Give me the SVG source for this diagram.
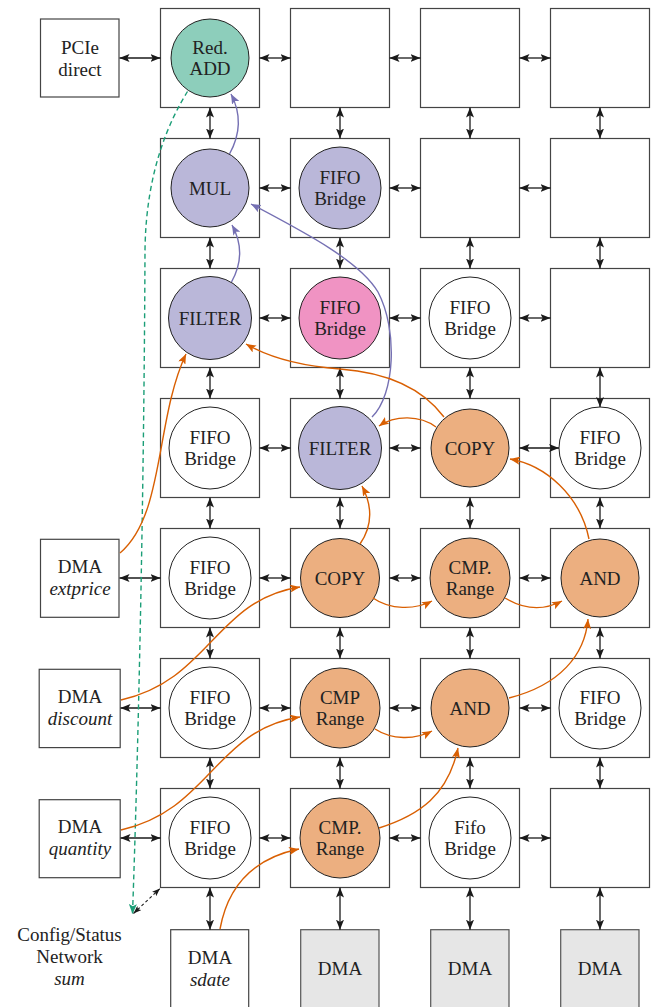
<svg xmlns="http://www.w3.org/2000/svg" width="652" height="1007" viewBox="0 0 652 1007" font-family="'Liberation Serif','DejaVu Serif','Times New Roman',serif">
<style>
.tile{fill:#fff;stroke:#444;stroke-width:1.2}
.box{fill:#fff;stroke:#444;stroke-width:1.2}
.gbox{fill:#e6e6e6;stroke:#555;stroke-width:1.2}
.c{stroke:#222;stroke-width:1}
.w{fill:#fff}
.lav{fill:#bab7d9}
.pink{fill:#f093c3}
.org{fill:#ecaf80}
.teal{fill:#8dcebb}
text{font-family:'Liberation Serif','DejaVu Serif','Times New Roman',serif;font-size:19px;fill:#222;text-anchor:middle}
.it{font-style:italic}
.bi{stroke:#1a1a1a;stroke-width:1.3;marker-start:url(#ak);marker-end:url(#ak)}
.o{fill:none;stroke:#d95f02;stroke-width:1.4;marker-end:url(#ao)}
.p{fill:none;stroke:#7570b3;stroke-width:1.4;marker-end:url(#ap)}
</style>
<defs>
<marker id="ak" markerUnits="userSpaceOnUse" markerWidth="10" markerHeight="8" refX="10" refY="4" orient="auto-start-reverse"><path d="M0,0 L10,4 L0,8 L2.2,4 z" fill="#1a1a1a"/></marker>
<marker id="ao" markerUnits="userSpaceOnUse" markerWidth="10" markerHeight="8" refX="10" refY="4" orient="auto"><path d="M0,0 L10,4 L0,8 L2.2,4 z" fill="#d95f02"/></marker>
<marker id="ap" markerUnits="userSpaceOnUse" markerWidth="10" markerHeight="8" refX="10" refY="4" orient="auto"><path d="M0,0 L10,4 L0,8 L2.2,4 z" fill="#7570b3"/></marker>
<marker id="ag" markerUnits="userSpaceOnUse" markerWidth="10" markerHeight="8" refX="10" refY="4" orient="auto"><path d="M0,0 L10,4 L0,8 L2.2,4 z" fill="#1b9e77"/></marker>
<marker id="akd" markerUnits="userSpaceOnUse" markerWidth="8" markerHeight="6" refX="8" refY="3" orient="auto-start-reverse"><path d="M0,0 L8,3 L0,6 L1.8,3 z" fill="#1a1a1a"/></marker>
</defs>

<!-- external boxes -->
<g id="pcie"><rect class="box" x="40.5" y="19" width="78.5" height="78"/><text x="80" y="54">PCIe</text><text x="80" y="75.5">direct</text></g>
<g id="dma-extprice"><rect class="box" x="40.5" y="539.3" width="78.5" height="78"/><text x="80" y="572.5">DMA</text><text class="it" x="80" y="594.5">extprice</text></g>
<g id="dma-discount"><rect class="box" x="39.2" y="669.3" width="81" height="78.3"/><text x="80" y="703.3">DMA</text><text class="it" x="80" y="725">discount</text></g>
<g id="dma-quantity"><rect class="box" x="39.2" y="799.7" width="81" height="78"/><text x="80" y="832.5">DMA</text><text class="it" x="80" y="855">quantity</text></g>
<g id="config"><text x="69.5" y="941">Config/Status</text><text x="69.5" y="963.3">Network</text><text class="it" x="69.5" y="985">sum</text></g>
<g id="dma-sdate"><rect class="box" x="170.7" y="929.7" width="78" height="78.5"/><text x="210" y="964">DMA</text><text class="it" x="210" y="986">sdate</text></g>
<g id="dma-b2"><rect class="gbox" x="300.7" y="929.7" width="78.3" height="78.5"/><text x="340" y="975">DMA</text></g>
<g id="dma-b3"><rect class="gbox" x="430.7" y="929.7" width="78.3" height="78.5"/><text x="470" y="975">DMA</text></g>
<g id="dma-b4"><rect class="gbox" x="560.7" y="929.7" width="78.3" height="78.5"/><text x="600" y="975">DMA</text></g>

<!-- row 1 -->
<g id="t11"><rect class="tile" x="160.5" y="8.5" width="99" height="99"/><circle class="c teal" cx="210" cy="58" r="39"/><text x="210" y="53.5">Red.</text><text x="210" y="74.5">ADD</text></g>
<g id="t12"><rect class="tile" x="290.5" y="8.5" width="99" height="99"/></g>
<g id="t13"><rect class="tile" x="420.5" y="8.5" width="99" height="99"/></g>
<g id="t14"><rect class="tile" x="550.5" y="8.5" width="99" height="99"/></g>
<!-- row 2 -->
<g id="t21"><rect class="tile" x="160.5" y="138.5" width="99" height="99"/><circle class="c lav" cx="210" cy="188" r="39"/><text x="210" y="194.5">MUL</text></g>
<g id="t22"><rect class="tile" x="290.5" y="138.5" width="99" height="99"/><circle class="c lav" cx="340" cy="188" r="41"/><text x="340" y="183.5">FIFO</text><text x="340" y="204.5">Bridge</text></g>
<g id="t23"><rect class="tile" x="420.5" y="138.5" width="99" height="99"/></g>
<g id="t24"><rect class="tile" x="550.5" y="138.5" width="99" height="99"/></g>
<!-- row 3 -->
<g id="t31"><rect class="tile" x="160.5" y="268.5" width="99" height="99"/><circle class="c lav" cx="210" cy="318" r="41.5"/><text x="210" y="324.5">FILTER</text></g>
<g id="t32"><rect class="tile" x="290.5" y="268.5" width="99" height="99"/><circle class="c pink" cx="340" cy="318" r="41"/><text x="340" y="313.5">FIFO</text><text x="340" y="334.5">Bridge</text></g>
<g id="t33"><rect class="tile" x="420.5" y="268.5" width="99" height="99"/><circle class="c w" cx="470" cy="318" r="41"/><text x="470" y="313.5">FIFO</text><text x="470" y="334.5">Bridge</text></g>
<g id="t34"><rect class="tile" x="550.5" y="268.5" width="99" height="99"/></g>
<!-- row 4 -->
<g id="t41"><rect class="tile" x="160.5" y="398.5" width="99" height="99"/><circle class="c w" cx="210" cy="448" r="41"/><text x="210" y="443.5">FIFO</text><text x="210" y="464.5">Bridge</text></g>
<g id="t42"><rect class="tile" x="290.5" y="398.5" width="99" height="99"/><circle class="c lav" cx="340" cy="448" r="41.5"/><text x="340" y="454.5">FILTER</text></g>
<g id="t43"><rect class="tile" x="420.5" y="398.5" width="99" height="99"/><circle class="c org" cx="470" cy="448" r="39"/><text x="470" y="454.5">COPY</text></g>
<g id="t44"><rect class="tile" x="550.5" y="398.5" width="99" height="99"/><circle class="c w" cx="600" cy="448" r="41"/><text x="600" y="443.5">FIFO</text><text x="600" y="464.5">Bridge</text></g>
<!-- row 5 -->
<g id="t51"><rect class="tile" x="160.5" y="528.5" width="99" height="99"/><circle class="c w" cx="210" cy="578" r="41"/><text x="210" y="573.5">FIFO</text><text x="210" y="594.5">Bridge</text></g>
<g id="t52"><rect class="tile" x="290.5" y="528.5" width="99" height="99"/><circle class="c org" cx="340" cy="578" r="39.5"/><text x="340" y="584.5">COPY</text></g>
<g id="t53"><rect class="tile" x="420.5" y="528.5" width="99" height="99"/><circle class="c org" cx="470" cy="578" r="40"/><text x="470" y="573.5">CMP.</text><text x="470" y="594.5">Range</text></g>
<g id="t54"><rect class="tile" x="550.5" y="528.5" width="99" height="99"/><circle class="c org" cx="600" cy="578" r="39"/><text x="600" y="584.5">AND</text></g>
<!-- row 6 -->
<g id="t61"><rect class="tile" x="160.5" y="658.5" width="99" height="99"/><circle class="c w" cx="210" cy="708" r="41"/><text x="210" y="703.5">FIFO</text><text x="210" y="724.5">Bridge</text></g>
<g id="t62"><rect class="tile" x="290.5" y="658.5" width="99" height="99"/><circle class="c org" cx="340" cy="708" r="40"/><text x="340" y="703.5">CMP</text><text x="340" y="724.5">Range</text></g>
<g id="t63"><rect class="tile" x="420.5" y="658.5" width="99" height="99"/><circle class="c org" cx="470" cy="708" r="39"/><text x="470" y="714.5">AND</text></g>
<g id="t64"><rect class="tile" x="550.5" y="658.5" width="99" height="99"/><circle class="c w" cx="600" cy="708" r="41"/><text x="600" y="703.5">FIFO</text><text x="600" y="724.5">Bridge</text></g>
<!-- row 7 -->
<g id="t71"><rect class="tile" x="160.5" y="788.5" width="99" height="99"/><circle class="c w" cx="210" cy="838" r="41"/><text x="210" y="833.5">FIFO</text><text x="210" y="854.5">Bridge</text></g>
<g id="t72"><rect class="tile" x="290.5" y="788.5" width="99" height="99"/><circle class="c org" cx="340" cy="838" r="40"/><text x="340" y="833.5">CMP.</text><text x="340" y="854.5">Range</text></g>
<g id="t73"><rect class="tile" x="420.5" y="788.5" width="99" height="99"/><circle class="c w" cx="470" cy="838" r="41"/><text x="470" y="833.5">Fifo</text><text x="470" y="854.5">Bridge</text></g>
<g id="t74"><rect class="tile" x="550.5" y="788.5" width="99" height="99"/></g>

<g id="connectors">
<!-- horizontal -->
<line class="bi" x1="119.5" y1="58" x2="160.5" y2="58"/>
<line class="bi" x1="259.5" y1="58" x2="290.5" y2="58"/>
<line class="bi" x1="389.5" y1="58" x2="420.5" y2="58"/>
<line class="bi" x1="519.5" y1="58" x2="550.5" y2="58"/>
<line class="bi" x1="259.5" y1="188" x2="290.5" y2="188"/>
<line class="bi" x1="389.5" y1="188" x2="420.5" y2="188"/>
<line class="bi" x1="519.5" y1="188" x2="550.5" y2="188"/>
<line class="bi" x1="259.5" y1="318" x2="290.5" y2="318"/>
<line class="bi" x1="389.5" y1="318" x2="420.5" y2="318"/>
<line class="bi" x1="519.5" y1="318" x2="550.5" y2="318"/>
<line class="bi" x1="259.5" y1="448" x2="290.5" y2="448"/>
<line class="bi" x1="389.5" y1="448" x2="420.5" y2="448"/>
<line class="bi" x1="519.5" y1="448" x2="559" y2="448"/>
<line class="bi" x1="119.5" y1="578" x2="160.5" y2="578"/>
<line class="bi" x1="259.5" y1="578" x2="290.5" y2="578"/>
<line class="bi" x1="389.5" y1="578" x2="420.5" y2="578"/>
<line class="bi" x1="519.5" y1="578" x2="550.5" y2="578"/>
<line class="bi" x1="120.5" y1="708" x2="160.5" y2="708"/>
<line class="bi" x1="259.5" y1="708" x2="290.5" y2="708"/>
<line class="bi" x1="389.5" y1="708" x2="420.5" y2="708"/>
<line class="bi" x1="519.5" y1="708" x2="550.5" y2="708"/>
<line class="bi" x1="120.5" y1="838" x2="160.5" y2="838"/>
<line class="bi" x1="259.5" y1="838" x2="290.5" y2="838"/>
<line class="bi" x1="389.5" y1="838" x2="420.5" y2="838"/>
<line class="bi" x1="519.5" y1="838" x2="550.5" y2="838"/>
<!-- vertical col 1 -->
<line class="bi" x1="210" y1="107.5" x2="210" y2="138.5"/>
<line class="bi" x1="210" y1="237.5" x2="210" y2="268.5"/>
<line class="bi" x1="210" y1="367.5" x2="210" y2="398.5"/>
<line class="bi" x1="210" y1="497.5" x2="210" y2="528.5"/>
<line class="bi" x1="210" y1="627.5" x2="210" y2="658.5"/>
<line class="bi" x1="210" y1="757.5" x2="210" y2="788.5"/>
<line class="bi" x1="210" y1="887.5" x2="210" y2="929.7"/>
<!-- col 2 -->
<line class="bi" x1="340" y1="107.5" x2="340" y2="138.5"/>
<line class="bi" x1="340" y1="237.5" x2="340" y2="268.5"/>
<line class="bi" x1="340" y1="367.5" x2="340" y2="398.5"/>
<line class="bi" x1="340" y1="497.5" x2="340" y2="528.5"/>
<line class="bi" x1="340" y1="627.5" x2="340" y2="658.5"/>
<line class="bi" x1="340" y1="757.5" x2="340" y2="788.5"/>
<line class="bi" x1="340" y1="887.5" x2="340" y2="929.7"/>
<!-- col 3 -->
<line class="bi" x1="470" y1="107.5" x2="470" y2="138.5"/>
<line class="bi" x1="470" y1="237.5" x2="470" y2="268.5"/>
<line class="bi" x1="470" y1="367.5" x2="470" y2="398.5"/>
<line class="bi" x1="470" y1="497.5" x2="470" y2="528.5"/>
<line class="bi" x1="470" y1="627.5" x2="470" y2="658.5"/>
<line class="bi" x1="470" y1="757.5" x2="470" y2="788.5"/>
<line class="bi" x1="470" y1="887.5" x2="470" y2="929.7"/>
<!-- col 4 -->
<line class="bi" x1="600" y1="107.5" x2="600" y2="138.5"/>
<line class="bi" x1="600" y1="237.5" x2="600" y2="268.5"/>
<line class="bi" x1="600" y1="367.5" x2="600" y2="407"/>
<line class="bi" x1="600" y1="497.5" x2="600" y2="528.5"/>
<line class="bi" x1="600" y1="627.5" x2="600" y2="658.5"/>
<line class="bi" x1="600" y1="757.5" x2="600" y2="788.5"/>
<line class="bi" x1="600" y1="887.5" x2="600" y2="929.7"/>

<!-- config network -->
<path d="M187.5,91.5 C170,120 146,170 145,250 C144,500 138,760 132.5,914" fill="none" stroke="#1b9e77" stroke-width="1.4" stroke-dasharray="5 3.5" marker-end="url(#ag)"/>
<line x1="133.5" y1="913.5" x2="160" y2="888.5" stroke="#1a1a1a" stroke-width="1.1" stroke-dasharray="3 2.5" marker-start="url(#akd)" marker-end="url(#akd)"/>

<!-- purple -->
<path class="p" d="M229.5,154 C240,135 242,115 231,94"/>
<path class="p" d="M231.5,282 C241,265 243,245 232,225"/>
<path class="p" d="M372,417 C395,395 398,330 378,292 C360,262 310,235 251,204"/>

<!-- orange -->
<path class="o" d="M120,553 C165,515 155,420 186,354"/>
<path class="o" d="M444,417 C420,385 380,372 340,369 C300,366 270,358 246,344"/>
<path class="o" d="M436,427 C420,415 395,415 379,426"/>
<path class="o" d="M360,544 C373,525 372,505 362,486"/>
<path class="o" d="M589,539 C580,495 545,465 510,459"/>
<path class="o" d="M373,598 C390,610 415,610 432,601"/>
<path class="o" d="M505,598 C525,610 545,610 562,601"/>
<path class="o" d="M509,698 C560,685 585,655 588,619"/>
<path class="o" d="M375,729 C392,740 415,740 432,731"/>
<path class="o" d="M379,828 C420,815 448,795 458,748"/>
<path class="o" d="M121,700 C210,680 215,600 300,587"/>
<path class="o" d="M121,830 C210,810 215,730 300,717"/>
<path class="o" d="M220,929 C228,885 255,858 299,849"/>
</g>
</svg>
